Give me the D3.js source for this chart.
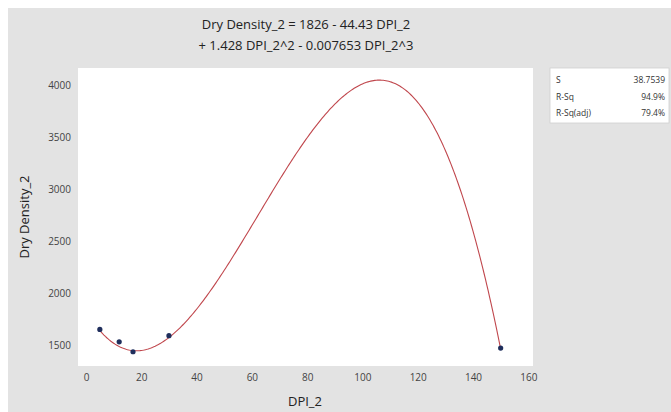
<!DOCTYPE html>
<html>
<head>
<meta charset="utf-8">
<script src="https://cdn.jsdelivr.net/npm/d3@7"></script>
<style>
  html, body { margin: 0; padding: 0; background: #ffffff; }
  svg { display: block; font-family: "Open Sans", "Noto Sans", sans-serif; }
</style>
</head>
<body>
<svg id="chart" width="671" height="412"></svg>
<script>
// ---- data ----
const dpi = [5, 12, 17, 30, 150];
const dryDensity = [1650, 1530, 1435, 1590, 1470];
const coef = [1826, -44.43, 1.428, -0.007653];
const xTicks = [0, 20, 40, 60, 80, 100, 120, 140, 160];
const yTicks = [1500, 2000, 2500, 3000, 3500, 4000];
const titleLines = ["Dry Density_2 = 1826 - 44.43 DPI_2", "+ 1.428 DPI_2^2 - 0.007653 DPI_2^3"];
const statLabels = ["S", "R-Sq", "R-Sq(adj)"];
const statValues = ["38.7539", "94.9%", "79.4%"];

const svg = d3.select("#chart");
const W = 671, H = 412;
const plot = { left: 78, right: 533, top: 68, bottom: 366 };

svg.append("rect").attr("x", 8).attr("y", 8).attr("width", W - 8).attr("height", H - 8).attr("fill", "#e3e3e3");
svg.append("rect").attr("x", plot.left).attr("y", plot.top)
  .attr("width", plot.right - plot.left).attr("height", plot.bottom - plot.top).attr("fill", "#ffffff");

const x = d3.scaleLinear().domain([-2.9, 161.7]).range([plot.left, plot.right]);
const y = d3.scaleLinear().domain([1298, 4163]).range([plot.bottom, plot.top]);

// title
svg.append("g").selectAll("text").data(titleLines).join("text")
  .attr("x", 306).attr("y", (d, i) => 29 + i * 21)
  .attr("text-anchor", "middle").attr("font-size", 13).attr("fill", "#222")
  .text(d => d);

// axes
const xAxis = d3.axisBottom(x).tickValues(xTicks).tickSize(0).tickPadding(8).tickFormat(d3.format("d"));
const gx = svg.append("g").attr("transform", `translate(0,${plot.bottom})`).call(xAxis);
const yAxis = d3.axisLeft(y).tickValues(yTicks).tickSize(0).tickPadding(7).tickFormat(d3.format("d"));
const gy = svg.append("g").attr("transform", `translate(${plot.left},0)`).call(yAxis);
[gx, gy].forEach(g => {
  g.select(".domain").remove();
  g.selectAll("text").attr("font-size", 10).attr("fill", "#444")
    .attr("font-family", "\"Open Sans\", \"Noto Sans\", sans-serif");
});

svg.append("text").attr("x", 305).attr("y", 406).attr("text-anchor", "middle")
  .attr("font-size", 13).attr("fill", "#222").text("DPI_2");
svg.append("text").attr("transform", "translate(29,217) rotate(-90)").attr("text-anchor", "middle")
  .attr("font-size", 13).attr("fill", "#222").text("Dry Density_2");

// fitted curve
const fit = v => coef[0] + coef[1] * v + coef[2] * v * v + coef[3] * v * v * v;
const xs = d3.range(dpi[0], dpi[dpi.length - 1] + 0.001, 0.5);
const line = d3.line().x(d => x(d)).y(d => y(fit(d))).curve(d3.curveLinear);
svg.append("path").datum(xs).attr("d", line).attr("fill", "none")
  .attr("stroke", "#c0474d").attr("stroke-width", 1.1);

// points
svg.append("g").selectAll("circle").data(dpi).join("circle")
  .attr("cx", d => x(d)).attr("cy", (d, i) => y(dryDensity[i])).attr("r", 2.6)
  .attr("fill", "#1f2e5c");

// stats box
svg.append("rect").attr("x", 550).attr("y", 68).attr("width", 119).attr("height", 55)
  .attr("fill", "#ffffff").attr("stroke", "#d0d0d0").attr("stroke-width", 0.8);
const sg = svg.append("g");
sg.selectAll("text.l").data(statLabels).join("text").attr("class", "l")
  .attr("x", 556).attr("y", (d, i) => 83 + i * 16.5).attr("font-size", 8.5).attr("fill", "#333").text(d => d);
sg.selectAll("text.v").data(statValues).join("text").attr("class", "v")
  .attr("x", 665).attr("y", (d, i) => 83 + i * 16.5).attr("text-anchor", "end")
  .attr("font-size", 8.5).attr("fill", "#333").text(d => d);
</script>
</body>
</html>
